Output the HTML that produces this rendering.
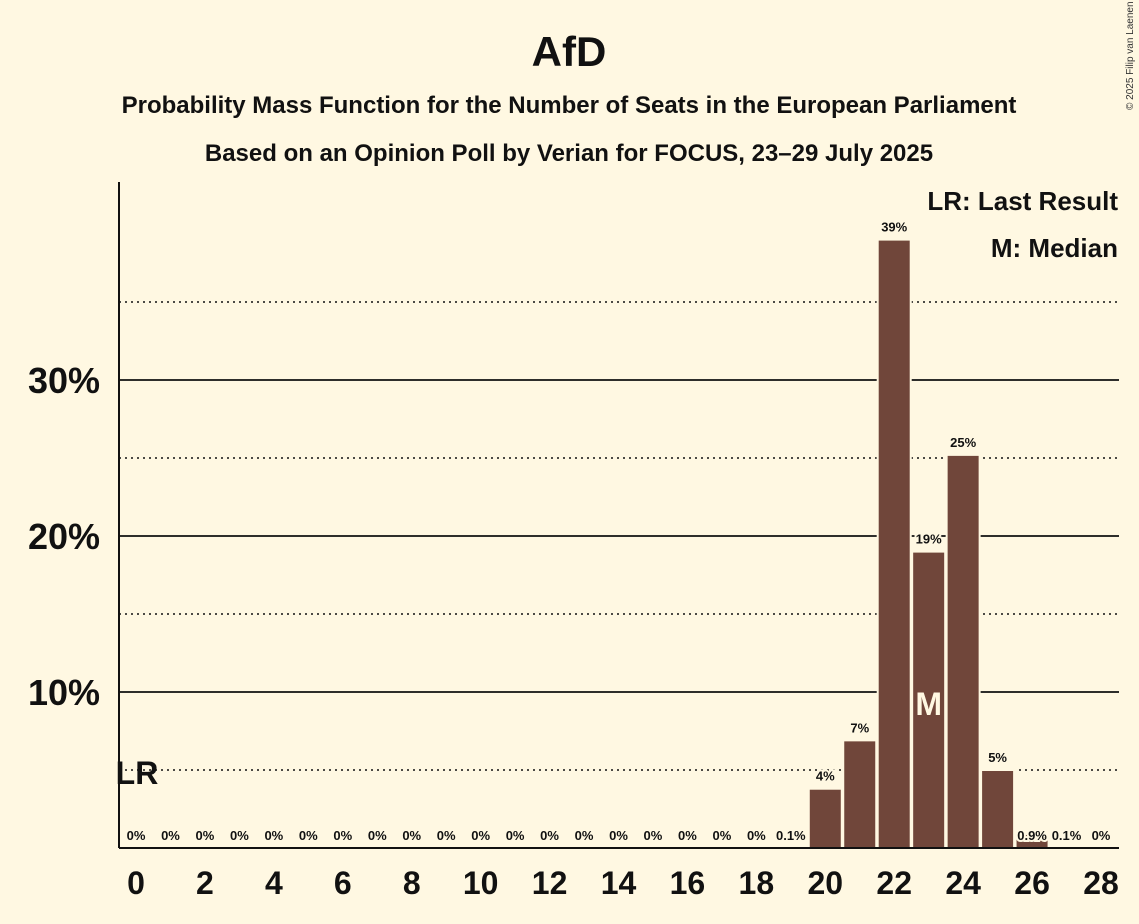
<!DOCTYPE html>
<html><head><meta charset="utf-8"><style>
body{margin:0;background:#fff8e2;}
svg{display:block;font-family:"Liberation Sans",sans-serif;}
</style></head><body>
<svg id="c" width="1139" height="924" viewBox="0 0 1139 924">
<rect width="1139" height="924" fill="#fff8e2"/>
<text x="569" y="66" text-anchor="middle" font-size="42" font-weight="bold" fill="#111">AfD</text>
<text x="569" y="113" text-anchor="middle" font-size="24" font-weight="bold" fill="#111">Probability Mass Function for the Number of Seats in the European Parliament</text>
<text x="569" y="161" text-anchor="middle" font-size="24" font-weight="bold" fill="#111">Based on an Opinion Poll by Verian for FOCUS, 23–29 July 2025</text>
<text x="1133" y="110" font-size="10" fill="#333" transform="rotate(-90 1133 110)">© 2025 Filip van Laenen</text>
<g id="grid"></g><g id="bars"></g>
<line x1="119" y1="182" x2="119" y2="848" stroke="#111" stroke-width="2"/>
<line x1="119" y1="848" x2="1119" y2="848" stroke="#111" stroke-width="2"/>
<g id="ticks"></g>
<text x="1118" y="210" text-anchor="end" font-size="26" font-weight="bold" fill="#111">LR: Last Result</text>
<text x="1118" y="257" text-anchor="end" font-size="26" font-weight="bold" fill="#111">M: Median</text>
</svg>
<script>
const seats=[0,1,2,3,4,5,6,7,8,9,10,11,12,13,14,15,16,17,18,19,20,21,22,23,24,25,26,27,28];
const probs=[0,0,0,0,0,0,0,0,0,0,0,0,0,0,0,0,0,0,0,0.1,3.8,6.9,39,19,25.2,5,0.9,0.1,0];
const labels=["0%","0%","0%","0%","0%","0%","0%","0%","0%","0%","0%","0%","0%","0%","0%","0%","0%","0%","0%","0.1%","4%","7%","39%","19%","25%","5%","0.9%","0.1%","0%"];
const yTicks=[10,20,30];
const yDotted=[5,15,25,35];
const xTickLabels=[0,2,4,6,8,10,12,14,16,18,20,22,24,26,28];
const medianSeat=23, lastResultSeat=0;
const NS="http://www.w3.org/2000/svg";
const X=s=>136+s*34.464, Y=p=>848-p*15.6;
function mk(t,a,parent){const e=document.createElementNS(NS,t);for(const k in a)e.setAttribute(k,a[k]);document.getElementById(parent).appendChild(e);return e;}
yDotted.forEach(v=>{const l=mk('line',{x1:119,x2:1119,y1:Y(v),y2:Y(v),stroke:'#111','stroke-width':1.5,'stroke-dasharray':'2,4'},'grid');

});
yTicks.forEach(v=>{const l=mk('line',{x1:119,x2:1119,y1:Y(v),y2:Y(v),stroke:'#111','stroke-width':1.8},'grid');


const t=mk('text',{x:100,y:Y(v)+13,'text-anchor':'end','font-size':36,'font-weight':'bold',fill:'#111'},'ticks');t.textContent=v+'%';

});
seats.forEach((s,i)=>{const p=probs[i];
if(p>0){const r=mk('rect',{x:X(s)-16.5,y:Y(p),width:33,height:848-Y(p),fill:'#70463a',stroke:'#fff8e2','stroke-width':2},'bars');

}
const t=mk('text',{x:X(s),y:Y(p)-8,'text-anchor':'middle','font-size':13,'font-weight':'bold',fill:'#111',stroke:'#fff8e2','stroke-width':4,'paint-order':'stroke'},'bars');
if(p<1)t.setAttribute('y',840);
t.textContent=labels[i];

});
xTickLabels.forEach(s=>{const t=mk('text',{x:X(s),y:894,'text-anchor':'middle','font-size':32,'font-weight':'bold',fill:'#111'},'ticks');t.textContent=s;

});
const m=mk('text',{x:X(medianSeat),y:715,'text-anchor':'middle','font-size':32,'font-weight':'bold',fill:'#fff8e2'},'bars');m.textContent='M';


const lr=mk('text',{x:X(lastResultSeat)+1,y:784,'text-anchor':'middle','font-size':32,'font-weight':'bold',fill:'#111'},'bars');lr.textContent='LR';


</script>
</body></html>
